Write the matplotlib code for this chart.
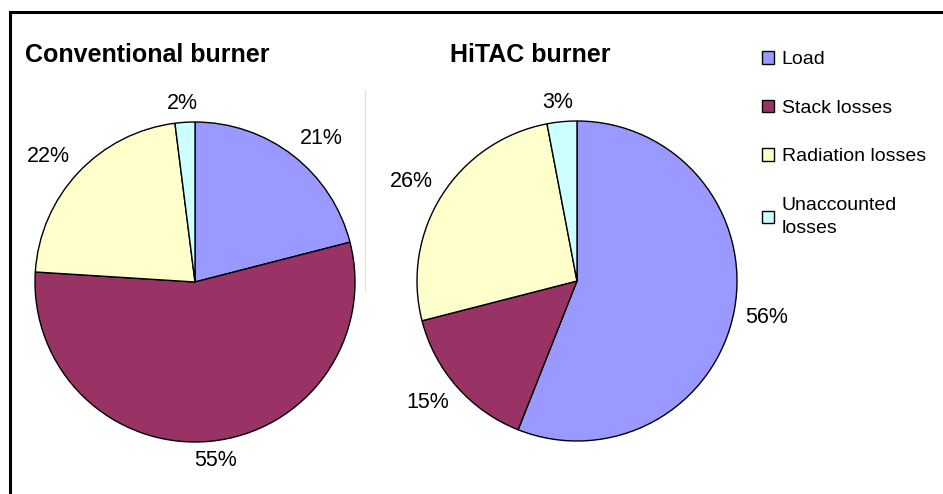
import matplotlib
matplotlib.use("Agg")
import numpy as np
import matplotlib.pyplot as plt
from matplotlib.patches import Patch, Rectangle
from matplotlib.lines import Line2D

plt.rcParams['font.family'] = ['Liberation Sans', 'DejaVu Sans']

categories = ["Load", "Stack losses", "Radiation losses", "Unaccounted\nlosses"]
conventional = [21, 55, 22, 2]
hitac = [56, 15, 26, 3]
titles = ["Conventional burner", "HiTAC burner"]
colors = ["#9999FF", "#993366", "#FFFFCC", "#CCFFFF"]

W, H = 943, 494
R_PX = 160
fig = plt.figure(figsize=(W / 100, H / 100), dpi=100)

def px_axes(cx, cy, r):
    return fig.add_axes([(cx - r) / W, (H - cy - r) / H, 2 * r / W, 2 * r / H])

# frame and faint divider
fig.add_artist(Rectangle((10 / W, -0.1), 1.2, (H - 12) / H + 0.1, transform=fig.transFigure,
                         fill=False, edgecolor="black", linewidth=2.2))
fig.add_artist(Line2D([365 / W, 365 / W], [(H - 90) / H, (H - 290) / H], transform=fig.transFigure,
                      color="#dddddd", linewidth=0.8))

fig.canvas.draw()
renderer = fig.canvas.get_renderer()

centers = [(195, 282), (577, 281)]
for (cx, cy), vals in zip(centers, [conventional, hitac]):
    ax = px_axes(cx, cy, R_PX)
    wedges, _, autotexts = ax.pie(vals, colors=colors, startangle=90, counterclock=False,
                                  autopct="%d%%", pctdistance=1.19,
                                  wedgeprops=dict(edgecolor="black", linewidth=1.0),
                                  textprops=dict(fontsize=15.5, color="black"))
    ax.set_xlim(-1, 1)
    ax.set_ylim(-1, 1)
    ax.set_aspect("auto")
    ax.axis("off")
    # place labels Excel-style: box edge a fixed gap outside the pie
    for w, t in zip(wedges, autotexts):
        ang = np.deg2rad((w.theta1 + w.theta2) / 2)
        c, s = np.cos(ang), np.sin(ang)
        bb = t.get_window_extent(renderer)
        hw, hh = bb.width / 2, 8.0
        dist = 171.0
        x = dist * c + hw * np.clip(c * 2, -1, 1)
        y = dist * s + hh * np.clip(s * 3, -1, 1)
        t.set_position((x / R_PX, y / R_PX))
        t.set_ha("center")
        t.set_va("center")

fig.text(147 / W, 1 - 55 / H, titles[0], ha="center", va="center", fontsize=18, fontweight="bold")
fig.text(530 / W, 1 - 55 / H, titles[1], ha="center", va="center", fontsize=18, fontweight="bold")

handles = [Patch(facecolor=c, edgecolor="black", linewidth=1.0) for c in colors]
leg = fig.legend(handles, categories, loc="upper left", bbox_to_anchor=(762 / W, 1 - 51 / H),
                 frameon=False, fontsize=14, handlelength=0.62, handleheight=0.62,
                 handletextpad=0.4, labelspacing=1.62, borderpad=0, borderaxespad=0)
leg.get_texts()[-1].set_linespacing(1.5)

fig.savefig("out.png", dpi=100)
